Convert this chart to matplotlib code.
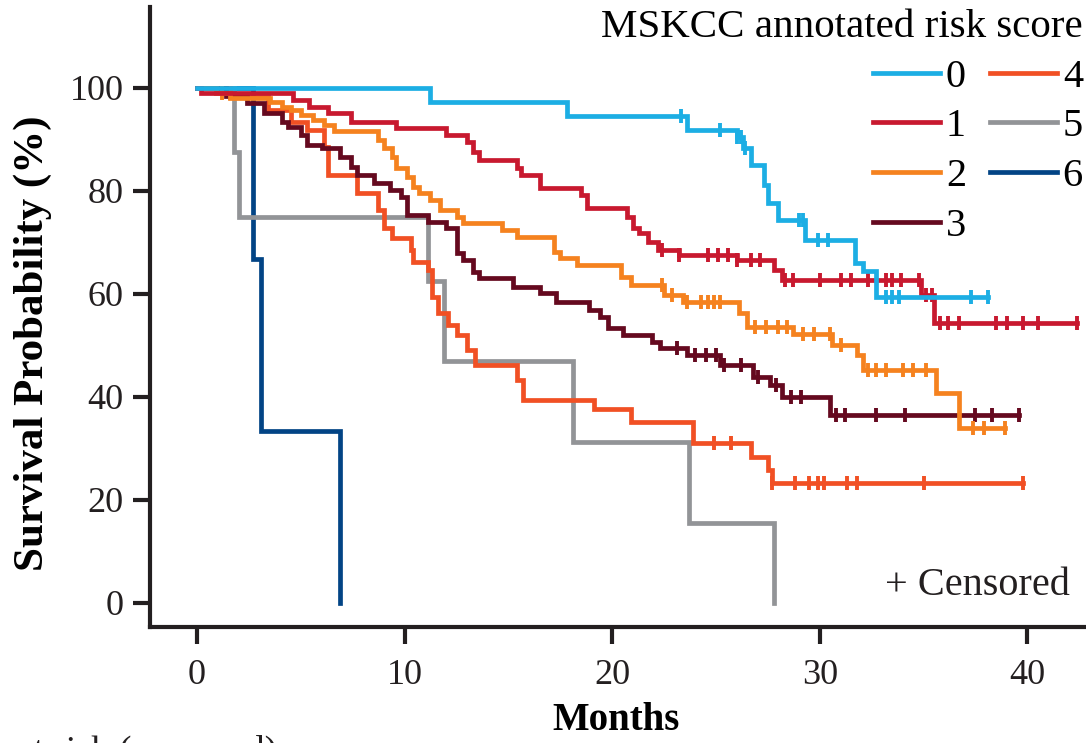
import numpy as np
import matplotlib.pyplot as plt

plt.rcParams['font.family'] = ['Liberation Serif', 'DejaVu Serif']

# risk groups and colours
groups = ['0', '1', '2', '3', '4', '5', '6']
colors = ['#1caee4', '#c8192f', '#f5821f', '#65091f', '#f15024', '#929497', '#024485']

# event times (months) and survival (%) after each drop, plus censor times
t0 = [11.2, 17.8, 23.6, 26.0, 26.3, 26.7, 27.3, 27.5, 28.0, 29.3, 31.7, 32.1, 32.7]
s0 = [97.2, 94.6, 91.8, 90.5, 88.3, 85.0, 81.2, 77.7, 74.4, 70.5, 66.0, 64.5, 59.4]
c0 = [23.3, 25.2, 26.0, 26.2, 26.4, 29.0, 29.2, 29.9, 30.4, 33.2, 33.5, 33.8, 37.3, 38.1]

t1 = [0.2, 4.6, 5.4, 6.3, 7.4, 9.6, 12.0, 13.0, 13.3, 13.6, 15.4, 15.6, 16.5, 18.5,
      18.8, 20.7, 21.0, 21.3, 21.7, 22.2, 23.2, 26.0, 27.8, 28.2, 34.9, 35.5]
s1 = [99.0, 97.7, 96.3, 95.1, 93.4, 92.2, 90.9, 89.5, 87.6, 86.0, 84.5, 83.1, 80.6, 79.2,
      76.7, 75.0, 72.8, 71.8, 70.1, 68.5, 67.6, 66.6, 64.7, 62.7, 59.8, 54.4]
c1 = [22.4, 23.2, 24.6, 25.1, 25.6, 26.0, 26.7, 27.1, 28.3, 28.7, 30.0, 31.0, 31.5,
      32.3, 33.2, 33.5, 33.9, 34.8, 35.1, 35.4, 35.8, 36.2, 36.7, 38.5, 39.0, 39.8,
      40.5, 42.4]

t2 = [0.9, 1.6, 3.5, 4.1, 4.5, 5.0, 5.6, 6.1, 6.6, 8.7, 9.0, 9.4, 9.6, 10.1, 10.4,
      10.7, 11.2, 11.7, 12.5, 12.8, 14.7, 15.4, 17.2, 17.5, 18.3, 20.4, 20.9, 22.5,
      23.4, 26.1, 26.5, 28.7, 30.6, 31.8, 32.1, 35.6, 36.7]
s2 = [99.0, 98.0, 97.3, 96.3, 95.7, 94.8, 93.8, 92.8, 91.7, 89.9, 88.3, 86.6, 84.5,
      82.7, 80.8, 79.6, 78.3, 76.3, 75.0, 73.8, 72.4, 71.0, 68.2, 67.0, 65.6, 63.3,
      61.7, 59.8, 58.4, 56.3, 53.6, 52.2, 50.0, 48.2, 45.2, 40.8, 34.0]
c2 = [1.2, 22.4, 22.9, 23.6, 24.3, 24.6, 24.9, 25.2, 26.9, 27.4, 28.0, 28.4, 29.2,
      29.7, 30.5, 31.0, 32.3, 32.7, 33.2, 34.0, 34.5, 35.1, 37.4, 37.9, 38.9]

t3 = [1.4, 2.4, 3.2, 4.1, 4.4, 5.0, 5.3, 6.0, 6.9, 7.4, 7.7, 8.5, 9.3, 9.8, 10.1,
      11.1, 12.0, 12.5, 12.8, 13.3, 13.6, 15.2, 16.5, 17.3, 18.9, 19.4, 19.8, 20.5,
      21.9, 22.3, 23.6, 25.2, 26.8, 27.6, 28.2, 30.5]
s3 = [98.5, 97.0, 95.1, 93.4, 92.4, 90.9, 88.9, 88.3, 86.6, 84.7, 83.1, 81.6, 80.2,
      78.8, 75.3, 74.0, 72.8, 68.0, 66.6, 64.3, 63.1, 61.4, 60.2, 58.4, 56.9, 55.5,
      53.4, 52.0, 50.7, 49.5, 48.2, 46.2, 43.9, 42.3, 40.0, 36.5]
c3 = [23.1, 24.0, 24.5, 25.0, 25.4, 26.2, 27.0, 27.9, 28.6, 29.1, 30.8, 31.2, 32.7,
      34.1, 37.5, 38.3, 39.6]

t4 = [1.6, 3.4, 4.5, 5.3, 6.1, 6.3, 7.7, 8.7, 9.0, 9.4, 10.3, 10.4, 11.1, 11.3, 11.6,
      12.1, 12.5, 13.0, 13.4, 15.4, 15.7, 19.1, 20.9, 23.9, 26.7, 27.5, 27.7]
s4 = [98.3, 95.7, 93.4, 91.8, 88.5, 83.1, 79.6, 76.3, 72.8, 70.9, 68.5, 66.2, 64.7,
      59.4, 56.3, 54.0, 52.0, 49.1, 46.2, 43.3, 39.4, 37.7, 35.1, 31.1, 28.4, 25.8, 23.3]
c4 = [24.9, 25.7, 27.7, 28.8, 29.5, 29.9, 30.2, 31.3, 31.8, 35.0, 39.8]

t5 = [1.8, 2.0, 11.1, 11.9, 18.1, 23.7, 27.8]
s5 = [87.5, 75.0, 62.5, 46.9, 31.25, 15.6, 0.0]
c5 = []

t6 = [2.7, 3.1, 6.9]
s6 = [66.7, 33.3, 0.0]
c6 = []

times = [t0, t1, t2, t3, t4, t5, t6]
survs = [s0, s1, s2, s3, s4, s5, s6]
cens = [c0, c1, c2, c3, c4, c5, c6]

W, H = 1086, 743
fig = plt.figure(figsize=(W / 100, H / 100), dpi=100)
ax = fig.add_axes([150 / W, (H - 627) / H, (1100 - 150) / W, (627 - 7) / H])

handles = {}
for i in reversed(range(len(groups))):
    t = np.array(times[i])
    s = np.array(survs[i])
    c = np.array(cens[i])
    end = max(t.max(), c.max() if len(c) else 0)
    xs = np.concatenate([[0], t, [end]])
    ys = np.concatenate([[100], s, [s[-1]]])
    line, = ax.step(xs, ys, where='post', color=colors[i], lw=3.4,
                    solid_joinstyle='miter', label=groups[i])
    handles[i] = line
    if len(c):
        levels = np.concatenate([[100], s])
        cy = levels[np.searchsorted(t, c, side='right')]
        ax.plot(c, cy, ls='none', marker='|', ms=10, mew=2.8, color=colors[i])

ax.set_xlim(-2.27, 43.5)
ax.set_ylim(-4.66, 115.7)
ax.set_xticks([0, 10, 20, 30, 40])
ax.set_yticks([0, 20, 40, 60, 80, 100])
for side in ['top', 'right']:
    ax.spines[side].set_visible(False)
for side in ['left', 'bottom']:
    ax.spines[side].set_linewidth(3)
    ax.spines[side].set_color('#231f20')
ax.tick_params(direction='out', length=12, width=3, color='#231f20',
               labelsize=26, labelcolor='#231f20')
ax.tick_params(axis='x', pad=11)
ax.tick_params(axis='y', pad=7)

ax.set_xlabel('Months', fontsize=28, fontweight='bold')
ax.xaxis.set_label_coords((616 - 150) / 950, (627 - 702) / 620)
ax.set_ylabel('Survival Probability (%)', fontsize=31, fontweight='bold')
ax.yaxis.set_label_coords((52 - 150) / 950, (627 - 343) / 620)

leg = ax.legend([handles[i] for i in range(len(groups))], groups, ncol=2,
                title='MSKCC annotated risk score', title_fontsize=29.5, fontsize=29,
                loc='upper right', bbox_to_anchor=(1083 / W, 1 - 9 / H),
                bbox_transform=fig.transFigure, frameon=False, borderpad=0,
                borderaxespad=0, handlelength=1.65, handletextpad=0.15,
                columnspacing=0.6, labelspacing=0.31, alignment='right')

fig.text(1070 / W, 1 - 595 / H, '+ Censored', fontsize=29, ha='right',
         va='baseline', color='#231f20')

# row heading of the table below the plot, cut by the figure edge as in the source
fig.text(277 / W, 1 - 735 / H, 'at risk (censored)', fontsize=27, ha='right',
         va='top', color='#231f20')

fig.savefig('out.png', dpi=100)
